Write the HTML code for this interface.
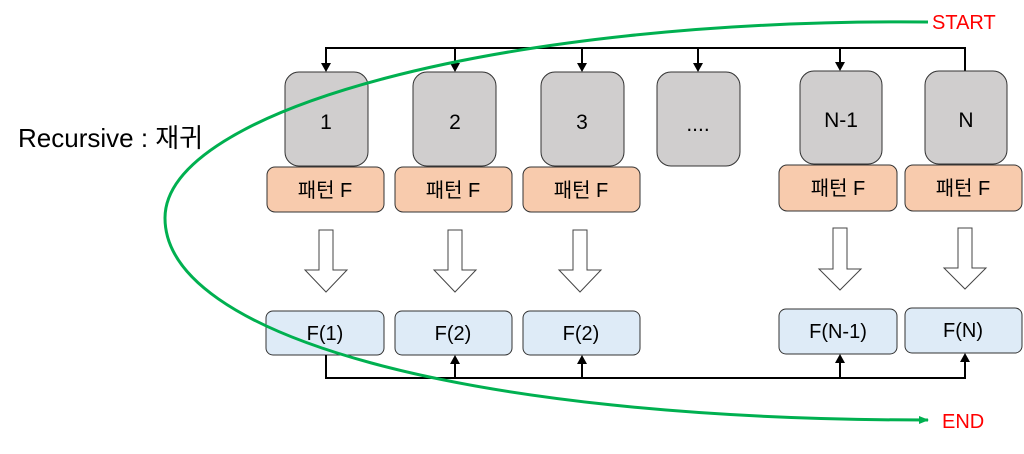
<!DOCTYPE html>
<html><head><meta charset="utf-8"><style>
html,body{margin:0;padding:0;background:#fff;}
svg text{font-family:"Liberation Sans","Noto Sans CJK KR",sans-serif;}
</style></head><body>
<svg width="1024" height="449" viewBox="0 0 1024 449" xmlns="http://www.w3.org/2000/svg">
<defs>
<marker id="ga" markerWidth="10" markerHeight="8" refX="9" refY="4" orient="auto" markerUnits="userSpaceOnUse"><path d="M0,0 L10,4 L0,8 z" fill="#00b050"/></marker>
</defs>
<text x="18" y="147" font-size="26" fill="#000">Recursive : 재귀</text>
<g stroke="#000" stroke-width="2" fill="none">
<polyline points="326,64 326,48 965,48 965,71"/>
<line x1="455" y1="48" x2="455" y2="64"/><line x1="582" y1="48" x2="582" y2="64"/>
<line x1="698" y1="48" x2="698" y2="64"/><line x1="840" y1="48" x2="840" y2="63"/>
</g>
<g fill="#000">
<path d="M321,63 L331,63 L326,72 z"/><path d="M450,63 L460,63 L455,72 z"/><path d="M577,63 L587,63 L582,72 z"/><path d="M693,63 L703,63 L698,72 z"/><path d="M835,62 L845,62 L840,71 z"/>
</g>
<g fill="#d0cece" stroke="#333" stroke-width="1">
<rect x="285" y="72" width="83" height="94" rx="14"/><rect x="413" y="72" width="83" height="94" rx="14"/>
<rect x="541" y="72" width="83" height="94" rx="14"/><rect x="657" y="72" width="83" height="94" rx="14"/>
<rect x="800" y="71" width="82" height="93" rx="14"/><rect x="925" y="71" width="82" height="93" rx="14"/>
</g>
<g font-size="21" text-anchor="middle" fill="#000">
<text x="326" y="129">1</text><text x="455" y="129">2</text><text x="582" y="129">3</text><text x="698" y="131">....</text>
<text x="841" y="127">N-1</text><text x="966" y="127">N</text>
</g>
<g fill="#f8cbad" stroke="#333" stroke-width="1">
<rect x="267" y="167" width="117" height="45" rx="8"/><rect x="395" y="167" width="117" height="45" rx="8"/>
<rect x="523" y="167" width="117" height="45" rx="8"/><rect x="779" y="165" width="118" height="46" rx="8"/>
<rect x="905" y="165" width="117" height="46" rx="8"/>
</g>
<g font-size="20" text-anchor="middle" fill="#000">
<text x="325" y="197">패턴 F</text><text x="453" y="197">패턴 F</text><text x="581" y="197">패턴 F</text>
<text x="838" y="195">패턴 F</text><text x="963" y="195">패턴 F</text>
</g>
<g fill="#fff" stroke="#444" stroke-width="1">
<path d="M319,230 L333,230 L333,270 L347,270 L326,292 L305,270 L319,270 z"/>
<path d="M448,230 L462,230 L462,270 L476,270 L455,292 L434,270 L448,270 z"/>
<path d="M573,230 L587,230 L587,270 L601,270 L580,292 L559,270 L573,270 z"/>
<path d="M833,228 L847,228 L847,269 L861,269 L840,290 L819,269 L833,269 z"/>
<path d="M958,228 L972,228 L972,268 L986,268 L965,289 L944,268 L958,268 z"/>
</g>
<g fill="#deebf7" stroke="#333" stroke-width="1">
<rect x="266" y="311" width="118" height="44" rx="7"/><rect x="395" y="311" width="117" height="44" rx="7"/>
<rect x="523" y="311" width="117" height="44" rx="7"/><rect x="779" y="309" width="118" height="45" rx="7"/>
<rect x="905" y="308" width="117" height="45" rx="7"/>
</g>
<g font-size="20" text-anchor="middle" fill="#000">
<text x="325" y="340">F(1)</text><text x="453" y="340">F(2)</text><text x="581" y="340">F(2)</text>
<text x="838" y="338">F(N-1)</text><text x="963" y="337">F(N)</text>
</g>
<g stroke="#000" stroke-width="2" fill="none">
<polyline points="326,355 326,378 965,378 965,362"/>
<line x1="455" y1="378" x2="455" y2="363"/><line x1="582" y1="378" x2="582" y2="363"/><line x1="840" y1="378" x2="840" y2="362"/>
</g>
<g fill="#000">
<path d="M450,364 L460,364 L455,355 z"/><path d="M577,364 L587,364 L582,355 z"/><path d="M835,363 L845,363 L840,354 z"/><path d="M960,362 L970,362 L965,353 z"/>
</g>
<path d="M928,22 C 500,18 165,110 165,218 C 165,335 460,420 928,420" fill="none" stroke="#00b050" stroke-width="3" marker-end="url(#ga)"/>
<text x="932" y="29" font-size="20" fill="#ff0000">START</text>
<text x="942" y="428" font-size="20" fill="#ff0000">END</text>
</svg>
</body></html>
